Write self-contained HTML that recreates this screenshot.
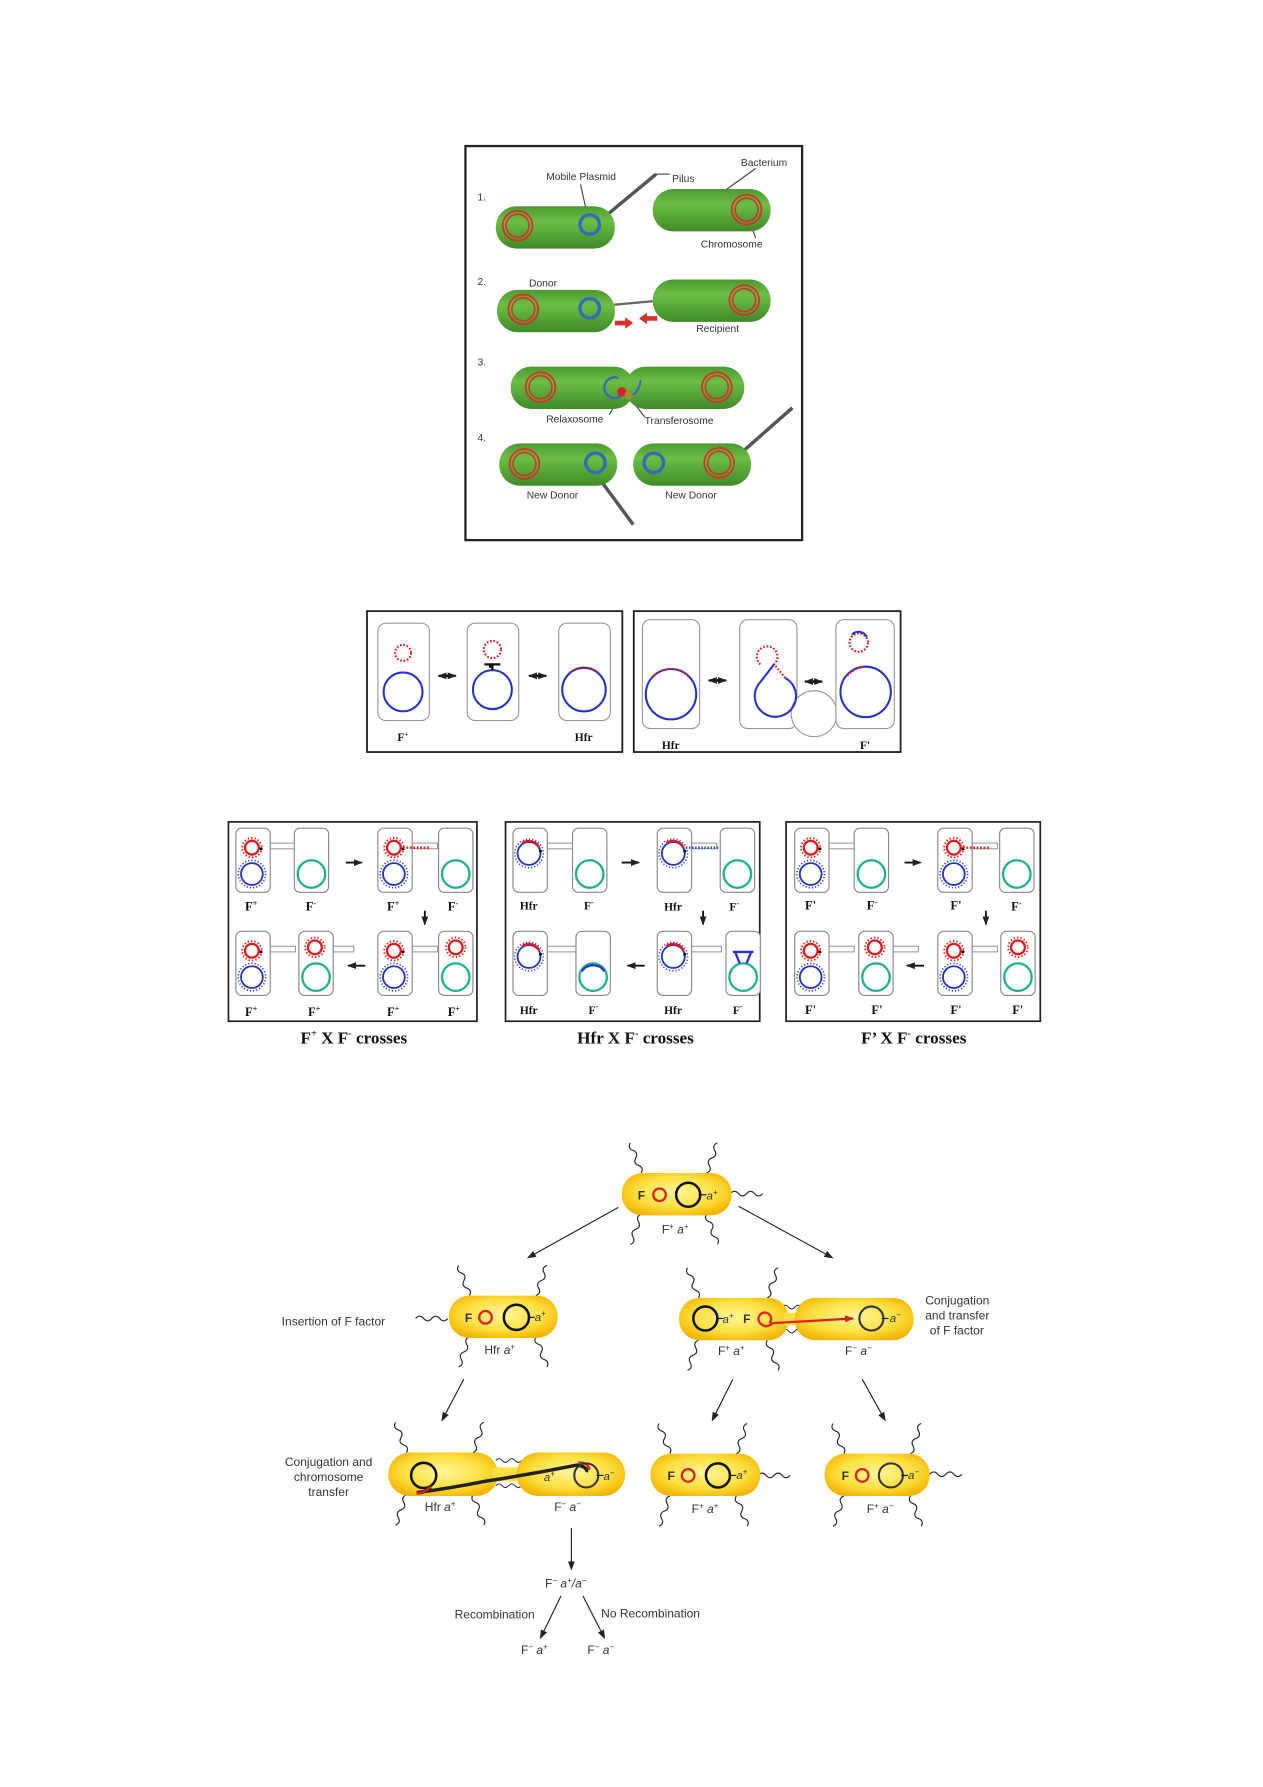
<!DOCTYPE html>
<html><head><meta charset="utf-8">
<style>
html,body{margin:0;padding:0;background:#fff;}
svg{display:block;}
.t{font-family:"Liberation Sans",sans-serif;fill:#333;}
.s{font-family:"Liberation Serif",serif;font-weight:bold;fill:#111;}
</style></head>
<body>
<svg width="1263" height="1787" viewBox="0 0 1103 1560" preserveAspectRatio="none" xmlns="http://www.w3.org/2000/svg" xmlns:xlink="http://www.w3.org/1999/xlink">
<defs>
<linearGradient id="gg" x1="0" y1="0" x2="0" y2="1">
<stop offset="0" stop-color="#4a9a30"/><stop offset="0.35" stop-color="#6cbf45"/><stop offset="1" stop-color="#3f8a28"/>
</linearGradient>
<radialGradient id="yg" cx="0.5" cy="0.45" r="0.6">
<stop offset="0" stop-color="#fff59a"/><stop offset="0.6" stop-color="#fde040"/><stop offset="1" stop-color="#f2b400"/>
</radialGradient>
<g id="chr"><circle r="13" fill="none" stroke="#d8302a" stroke-width="1.6"/><circle r="10" fill="none" stroke="#d8302a" stroke-width="1.4"/></g>
<g id="pb"><circle r="8.5" fill="none" stroke="#3a68b8" stroke-width="3"/></g>
<marker id="ah" markerWidth="8" markerHeight="8" refX="7" refY="4" orient="auto" markerUnits="userSpaceOnUse"><path d="M0,1 L8,4 L0,7 z" fill="#222"/></marker>
<marker id="ahr" markerWidth="8" markerHeight="8" refX="7" refY="4" orient="auto" markerUnits="userSpaceOnUse"><path d="M0,1 L8,4 L0,7 z" fill="#d22"/></marker>
<g id="cell"><rect width="30" height="56" rx="5" fill="#fff" stroke="#888" stroke-width="1"/></g>
<g id="don">
<circle cx="14" cy="17" r="6" fill="none" stroke="#e01818" stroke-width="2"/>
<circle cx="14" cy="17" r="8.5" fill="none" stroke="#e01818" stroke-width="1.6" stroke-dasharray="1.2 1.8"/>
<circle cx="14" cy="40" r="9.5" fill="none" stroke="#2233cc" stroke-width="1.6"/>
<circle cx="14" cy="40" r="12" fill="none" stroke="#2233cc" stroke-width="1.4" stroke-dasharray="1 1.8"/>
<circle cx="22" cy="18" r="1.3" fill="#000"/>
</g>
<g id="rec"><circle cx="15" cy="40" r="12" fill="none" stroke="#1db38a" stroke-width="2"/></g>
<g id="hdon">
<circle cx="14" cy="22" r="10" fill="none" stroke="#2233cc" stroke-width="1.6"/>
<circle cx="14" cy="22" r="12.5" fill="none" stroke="#2233cc" stroke-width="1.3" stroke-dasharray="1 1.8"/>
<path d="M8,13 A10,10 0 0 1 23,17" fill="none" stroke="#e01818" stroke-width="2"/>
<circle cx="24" cy="20" r="1.3" fill="#000"/>
</g>
<g id="bridge"><rect x="30" y="13" width="22" height="5" fill="#fff" stroke="#888" stroke-width="0.8"/></g>
<path id="wig" d="M0,0 q4,-3.5 0,-7 q-4,-3.5 0,-7 q4,-3.5 0,-7 q-4,-3.5 0,-7" fill="none" stroke="#222" stroke-width="1"/>
<path id="wigh" d="M0,0 q3.5,-4 7,0 q3.5,4 7,0 q3.5,-4 7,0 q3.5,4 7,0" fill="none" stroke="#222" stroke-width="1"/>
</defs>

<!-- PANEL 1 -->
<rect x="406.5" y="127.5" width="294" height="344" fill="#fff" stroke="#222" stroke-width="2"/>
<g class="t" font-size="9">
<text x="417" y="175">1.</text><text x="417" y="249">2.</text><text x="417" y="319">3.</text><text x="417" y="385">4.</text>
<text x="477" y="157">Mobile Plasmid</text>
<text x="587" y="159">Pilus</text>
<text x="647" y="145">Bacterium</text>
<text x="612" y="216">Chromosome</text>
<text x="462" y="250">Donor</text>
<text x="608" y="290">Recipient</text>
<text x="477" y="369">Relaxosome</text>
<text x="563" y="370">Transferosome</text>
<text x="460" y="435">New Donor</text>
<text x="581" y="435">New Donor</text>
</g>
<g stroke="#444" stroke-width="1" fill="none">
<line x1="507" y1="161" x2="513" y2="188"/><line x1="573" y1="152" x2="585" y2="152"/>
<line x1="660" y1="147" x2="628" y2="170"/><line x1="656" y1="197" x2="660" y2="208"/>
<line x1="542" y1="345" x2="532" y2="362"/><line x1="550" y1="347" x2="563" y2="364"/>
</g>
<line x1="532" y1="186" x2="573" y2="152" stroke="#555" stroke-width="3"/>
<rect x="433" y="180" width="104" height="37" rx="18" fill="url(#gg)"/>
<use xlink:href="#chr" x="452" y="197"/><use xlink:href="#pb" x="515" y="196"/>
<rect x="570" y="165" width="103" height="37" rx="18" fill="url(#gg)"/>
<use xlink:href="#chr" x="652" y="183"/>
<line x1="536" y1="266" x2="570" y2="263" stroke="#666" stroke-width="2"/>
<rect x="434" y="253" width="103" height="37" rx="18" fill="url(#gg)"/>
<use xlink:href="#chr" x="457" y="270"/><use xlink:href="#pb" x="515" y="269"/>
<rect x="570" y="244" width="103" height="37" rx="18" fill="url(#gg)"/>
<use xlink:href="#chr" x="650" y="262"/>
<path d="M537,280 h9 v-3 l7,5 l-7,5 v-3 h-9z" fill="#d8302a"/>
<path d="M574,276 h-9 v-3 l-7,5 l7,5 v-3 h9z" fill="#d8302a"/>
<rect x="446" y="320" width="108" height="37" rx="18" fill="url(#gg)"/>
<rect x="546" y="320" width="104" height="37" rx="18" fill="url(#gg)"/>
<use xlink:href="#chr" x="472" y="338"/><use xlink:href="#chr" x="626" y="338"/>
<path d="M545,342 A9,9 0 1 1 540,330 M545,342 q8,6 12,-2 q3,-6 2,-8" fill="none" stroke="#3a68b8" stroke-width="2"/>
<circle cx="543" cy="342" r="4" fill="#d8202a"/><circle cx="549" cy="345" r="3.5" fill="#a09030"/>
<line x1="525" y1="420" x2="553" y2="458" stroke="#555" stroke-width="3"/>
<line x1="650" y1="393" x2="692" y2="356" stroke="#555" stroke-width="3"/>
<rect x="436" y="387" width="103" height="37" rx="18" fill="url(#gg)"/>
<use xlink:href="#chr" x="458" y="405"/><use xlink:href="#pb" x="520" y="404"/>
<rect x="553" y="387" width="103" height="37" rx="18" fill="url(#gg)"/>
<use xlink:href="#pb" x="571" y="404"/><use xlink:href="#chr" x="628" y="404"/>

<!-- PANEL 2 -->
<rect x="320.5" y="533.5" width="223" height="123" fill="#fff" stroke="#222" stroke-width="1.6"/>
<rect x="553.5" y="533.5" width="233" height="123" fill="#fff" stroke="#222" stroke-width="1.6"/>
<g fill="#fff" stroke="#999" stroke-width="1">
<rect x="330" y="544" width="45" height="85" rx="7"/>
<rect x="408" y="544" width="45" height="85" rx="7"/>
<rect x="488" y="544" width="45" height="85" rx="7"/>
<rect x="561" y="541" width="50" height="95" rx="7"/>
<rect x="646" y="541" width="50" height="95" rx="7"/>
<circle cx="711" cy="623" r="20"/>
<rect x="730" y="541" width="51" height="95" rx="7"/>
</g>
<g fill="none" stroke-width="1.8">
<circle cx="352" cy="604" r="17" stroke="#2233cc"/>
<circle cx="352" cy="570" r="7" stroke="#e01818" stroke-dasharray="1.5 1.5"/>
<circle cx="430" cy="602" r="17" stroke="#2233cc"/>
<circle cx="430" cy="567" r="7.5" stroke="#e01818" stroke-dasharray="1.5 1.5"/>
<circle cx="510" cy="602" r="19" stroke="#2233cc"/>
<path d="M498,587 A19,19 0 0 1 522,587" stroke="#e01818" stroke-dasharray="1.5 1.5"/>
<circle cx="586" cy="606" r="22" stroke="#2233cc"/>
<path d="M570,591 A22,22 0 0 1 602,591" stroke="#e01818" stroke-dasharray="1.5 1.5"/>
<path d="M664,580 A9,9 0 1 1 676,580 L686,592" stroke="#e01818" stroke-dasharray="1.5 1.5"/>
<path d="M676,580 L662,598 A18,18 0 1 0 686,592" stroke="#2233cc"/>
<circle cx="750" cy="561" r="8" stroke="#e01818" stroke-dasharray="1.5 1.5"/>
<path d="M744,554 A8,8 0 0 1 757,556" stroke="#2233cc"/>
<circle cx="756" cy="604" r="22" stroke="#2233cc"/>
<path d="M740,590 A22,22 0 0 1 756,582" stroke="#e01818" stroke-dasharray="1.5 1.5"/>
</g>
<path d="M428,583 v-4 M423,580 h14 M430,580 v5" stroke="#111" stroke-width="2"/>
<g stroke="#111" stroke-width="2" marker-end="url(#ah)">
<line x1="389" y1="590" x2="398" y2="590"/><line x1="393" y1="590" x2="383" y2="590"/>
<line x1="468" y1="590" x2="477" y2="590"/><line x1="472" y1="590" x2="462" y2="590"/>
<line x1="625" y1="594" x2="634" y2="594"/><line x1="629" y1="594" x2="619" y2="594"/>
<line x1="709" y1="595" x2="718" y2="595"/><line x1="713" y1="595" x2="703" y2="595"/>
</g>
<g class="s" font-size="10">
<text x="347" y="647">F<tspan font-size="6" dy="-4">+</tspan></text>
<text x="502" y="647">Hfr</text>
<text x="578" y="654">Hfr</text>
<text x="751" y="654">F'</text>
</g>

<!-- PANEL 3 -->
<g class="s" font-size="15">
<text x="309" y="911" text-anchor="middle">F<tspan font-size="9" dy="-6">+</tspan><tspan dy="6"> X F</tspan><tspan font-size="9" dy="-6">-</tspan><tspan dy="6"> crosses</tspan></text>
<text x="555" y="911" text-anchor="middle">Hfr X F<tspan font-size="9" dy="-6">-</tspan><tspan dy="6"> crosses</tspan></text>
<text x="798" y="911" text-anchor="middle">F’ X F<tspan font-size="9" dy="-6">-</tspan><tspan dy="6"> crosses</tspan></text>
</g>

<g transform="translate(199,717)">
<rect x="0.5" y="0.5" width="217" height="174" fill="#fff" stroke="#222" stroke-width="1.5"/>
<g transform="translate(7,6)"><use xlink:href="#bridge"/><use xlink:href="#cell"/><use xlink:href="#don"/><g transform="translate(51,0)"><use xlink:href="#cell"/><use xlink:href="#rec"/></g></g>
<g transform="translate(131,6)"><use xlink:href="#bridge"/><use xlink:href="#cell"/><use xlink:href="#don"/><line x1="22" y1="17" x2="45" y2="17" stroke="#e01818" stroke-width="2" stroke-dasharray="1.5 1.5"/><g transform="translate(53,0)"><use xlink:href="#cell"/><use xlink:href="#rec"/></g></g>
<g transform="translate(7,96)"><use xlink:href="#bridge"/><use xlink:href="#cell"/><use xlink:href="#don"/><g transform="translate(55,0)"><rect x="30" y="13" width="18" height="5" fill="#fff" stroke="#888" stroke-width="0.8"/><use xlink:href="#cell"/><use xlink:href="#rec"/><circle cx="14" cy="14" r="6" fill="none" stroke="#e01818" stroke-width="2"/><circle cx="14" cy="14" r="8.5" fill="none" stroke="#e01818" stroke-width="1.6" stroke-dasharray="1.2 1.8"/></g></g>
<g transform="translate(131,96)"><use xlink:href="#bridge"/><use xlink:href="#cell"/><use xlink:href="#don"/><g transform="translate(53,0)"><use xlink:href="#cell"/><use xlink:href="#rec"/><circle cx="15" cy="14" r="6" fill="none" stroke="#e01818" stroke-width="2"/><circle cx="15" cy="14" r="8.5" fill="none" stroke="#e01818" stroke-width="1.6" stroke-dasharray="1.2 1.8"/></g></g>
<g stroke="#111" stroke-width="1.6" marker-end="url(#ah)">
<line x1="103" y1="36" x2="117" y2="36"/><line x1="172" y1="78" x2="172" y2="90"/><line x1="120" y1="126" x2="105" y2="126"/>
</g>
<g class="s" font-size="11">
<text x="15" y="78">F<tspan font-size="7" dy="-4">+</tspan></text><text x="68" y="78">F<tspan font-size="7" dy="-4">-</tspan></text>
<text x="139" y="78">F<tspan font-size="7" dy="-4">+</tspan></text><text x="192" y="78">F<tspan font-size="7" dy="-4">-</tspan></text>
<text x="15" y="170">F<tspan font-size="7" dy="-4">+</tspan></text><text x="70" y="170">F<tspan font-size="7" dy="-4">+</tspan></text>
<text x="139" y="170">F<tspan font-size="7" dy="-4">+</tspan></text><text x="192" y="170">F<tspan font-size="7" dy="-4">+</tspan></text>
</g>
</g>

<g transform="translate(441,717)">
<rect x="0.5" y="0.5" width="222" height="174" fill="#fff" stroke="#222" stroke-width="1.5"/>
<g transform="translate(7,6)"><use xlink:href="#bridge"/><use xlink:href="#cell"/><use xlink:href="#hdon"/><g transform="translate(52,0)"><use xlink:href="#cell"/><use xlink:href="#rec"/></g></g>
<g transform="translate(133,6)"><use xlink:href="#bridge"/><use xlink:href="#cell"/><use xlink:href="#hdon"/><line x1="25" y1="17" x2="55" y2="17" stroke="#2233cc" stroke-width="2" stroke-dasharray="1.2 1.5"/><g transform="translate(55,0)"><use xlink:href="#cell"/><use xlink:href="#rec"/></g></g>
<g transform="translate(7,96)"><rect x="30" y="13" width="26" height="5" fill="#fff" stroke="#888" stroke-width="0.8"/><use xlink:href="#cell"/><use xlink:href="#hdon"/><g transform="translate(55,0)"><use xlink:href="#cell"/><use xlink:href="#rec"/><path d="M5,35 A12,12 0 0 1 25,35" fill="none" stroke="#2233cc" stroke-width="2"/></g></g>
<g transform="translate(133,96)"><rect x="30" y="13" width="26" height="5" fill="#fff" stroke="#888" stroke-width="0.8"/><use xlink:href="#cell"/><use xlink:href="#hdon"/><g transform="translate(60,0)"><use xlink:href="#cell"/><use xlink:href="#rec"/><path d="M6,18 h18 M8,18 l4,10 M22,18 l-4,10" fill="none" stroke="#2233cc" stroke-width="2"/></g></g>
<g stroke="#111" stroke-width="1.6" marker-end="url(#ah)">
<line x1="102" y1="36" x2="117" y2="36"/><line x1="173" y1="78" x2="173" y2="90"/><line x1="122" y1="126" x2="107" y2="126"/>
</g>
<g class="s" font-size="10">
<text x="13" y="77">Hfr</text><text x="69" y="77">F<tspan font-size="7" dy="-4">-</tspan></text>
<text x="139" y="78">Hfr</text><text x="196" y="78">F<tspan font-size="7" dy="-4">-</tspan></text>
<text x="13" y="168">Hfr</text><text x="73" y="168">F<tspan font-size="7" dy="-4">-</tspan></text>
<text x="139" y="168">Hfr</text><text x="199" y="168">F<tspan font-size="7" dy="-4">-</tspan></text>
</g>
</g>

<g transform="translate(686,717)">
<rect x="0.5" y="0.5" width="222" height="174" fill="#fff" stroke="#222" stroke-width="1.5"/>
<g transform="translate(8,6)"><use xlink:href="#bridge"/><use xlink:href="#cell"/><use xlink:href="#don"/><g transform="translate(52,0)"><use xlink:href="#cell"/><use xlink:href="#rec"/></g></g>
<g transform="translate(133,6)"><use xlink:href="#bridge"/><use xlink:href="#cell"/><use xlink:href="#don"/><line x1="22" y1="17" x2="45" y2="17" stroke="#e01818" stroke-width="2" stroke-dasharray="1.5 1.5"/><g transform="translate(54,0)"><use xlink:href="#cell"/><use xlink:href="#rec"/></g></g>
<g transform="translate(8,96)"><use xlink:href="#bridge"/><use xlink:href="#cell"/><use xlink:href="#don"/><g transform="translate(56,0)"><rect x="30" y="13" width="22" height="5" fill="#fff" stroke="#888" stroke-width="0.8"/><use xlink:href="#cell"/><use xlink:href="#rec"/><circle cx="14" cy="14" r="6" fill="none" stroke="#e01818" stroke-width="2"/><circle cx="14" cy="14" r="8.5" fill="none" stroke="#e01818" stroke-width="1.6" stroke-dasharray="1.2 1.8"/></g></g>
<g transform="translate(133,96)"><use xlink:href="#bridge"/><use xlink:href="#cell"/><use xlink:href="#don"/><g transform="translate(55,0)"><use xlink:href="#cell"/><use xlink:href="#rec"/><circle cx="15" cy="14" r="6" fill="none" stroke="#e01818" stroke-width="2"/><circle cx="15" cy="14" r="8.5" fill="none" stroke="#e01818" stroke-width="1.6" stroke-dasharray="1.2 1.8"/></g></g>
<g stroke="#111" stroke-width="1.6" marker-end="url(#ah)">
<line x1="104" y1="36" x2="118" y2="36"/><line x1="175" y1="78" x2="175" y2="90"/><line x1="121" y1="126" x2="106" y2="126"/>
</g>
<g class="s" font-size="11">
<text x="17" y="77">F'</text><text x="71" y="77">F<tspan font-size="7" dy="-4">-</tspan></text>
<text x="144" y="77">F'</text><text x="197" y="78">F<tspan font-size="7" dy="-4">-</tspan></text>
<text x="17" y="168">F'</text><text x="75" y="168">F'</text>
<text x="144" y="168">F'</text><text x="198" y="168">F'</text>
</g>
</g>

<!-- PANEL 4 -->
<g class="t" font-size="10.5" fill="#222">
<use xlink:href="#wig" transform="translate(560,1024) rotate(-20)"/>
<use xlink:href="#wig" transform="translate(617,1024) rotate(20)"/>
<use xlink:href="#wig" transform="translate(560,1060) rotate(200)"/>
<use xlink:href="#wig" transform="translate(617,1060) rotate(160)"/>
<use xlink:href="#wigh" transform="translate(638,1042)"/>
<rect x="543" y="1024" width="96" height="37" rx="18" fill="url(#yg)"/>
<text x="557" y="1047" font-weight="bold">F</text>
<circle cx="576" cy="1043" r="5.5" fill="none" stroke="#d22" stroke-width="2"/>
<circle cx="601" cy="1043" r="10.5" fill="none" stroke="#111" stroke-width="2.2"/>
<line x1="610" y1="1043" x2="617" y2="1043" stroke="#111"/>
<text x="617" y="1047" font-style="italic" font-size="10">a<tspan font-size="7" dy="-4">+</tspan></text>
<text x="578" y="1077">F<tspan font-size="7" dy="-4">+</tspan><tspan dy="4" font-style="italic"> a</tspan><tspan font-size="7" dy="-4">+</tspan></text>

<line x1="540" y1="1054" x2="461" y2="1098" stroke="#222" marker-end="url(#ah)"/>
<line x1="645" y1="1053" x2="727" y2="1098" stroke="#222" marker-end="url(#ah)"/>

<use xlink:href="#wig" transform="translate(410,1131) rotate(-20)"/>
<use xlink:href="#wig" transform="translate(468,1131) rotate(20)"/>
<use xlink:href="#wig" transform="translate(410,1167) rotate(200)"/>
<use xlink:href="#wig" transform="translate(468,1167) rotate(160)"/>
<use xlink:href="#wigh" transform="translate(363,1151)"/>
<rect x="392" y="1131" width="95" height="37" rx="18" fill="url(#yg)"/>
<text x="406" y="1154" font-weight="bold">F</text>
<circle cx="424" cy="1150" r="5.5" fill="none" stroke="#d22" stroke-width="2"/>
<circle cx="451" cy="1150" r="11" fill="none" stroke="#111" stroke-width="2.2"/>
<line x1="461" y1="1150" x2="467" y2="1150" stroke="#111"/>
<text x="467" y="1153" font-style="italic" font-size="10">a<tspan font-size="7" dy="-4">+</tspan></text>
<text x="423" y="1182">Hfr <tspan font-style="italic">a</tspan><tspan font-size="7" dy="-4">+</tspan></text>
<text x="246" y="1157">Insertion of F factor</text>

<use xlink:href="#wig" transform="translate(610,1133) rotate(-20)"/>
<use xlink:href="#wig" transform="translate(670,1133) rotate(20)"/>
<use xlink:href="#wig" transform="translate(610,1170) rotate(200)"/>
<use xlink:href="#wig" transform="translate(670,1170) rotate(160)"/>
<use xlink:href="#wigh" transform="translate(683,1141) scale(0.8)"/>
<use xlink:href="#wigh" transform="translate(683,1162) scale(0.8)"/>
<rect x="593" y="1133" width="96" height="37" rx="18" fill="url(#yg)"/>
<rect x="684" y="1146" width="16" height="11" fill="#fde040"/>
<rect x="694" y="1133" width="104" height="37" rx="18" fill="url(#yg)"/>
<circle cx="616" cy="1151" r="10.5" fill="none" stroke="#111" stroke-width="2.2"/>
<line x1="626" y1="1151" x2="632" y2="1151" stroke="#111"/>
<text x="631" y="1155" font-style="italic" font-size="10">a<tspan font-size="7" dy="-4">+</tspan></text>
<text x="649" y="1155" font-weight="bold">F</text>
<path d="M672,1155 a5.5,5.5 0 1 0 -7,1 q4,4 10,-1 l70,-4" fill="none" stroke="#d22" stroke-width="2" marker-end="url(#ahr)"/>
<circle cx="761" cy="1151" r="10.5" fill="none" stroke="#334" stroke-width="1.8"/>
<line x1="770" y1="1151" x2="776" y2="1151" stroke="#111"/>
<text x="777" y="1154" font-style="italic" font-size="10">a<tspan font-size="7" dy="-4">−</tspan></text>
<text x="627" y="1183">F<tspan font-size="7" dy="-4">+</tspan><tspan dy="4" font-style="italic"> a</tspan><tspan font-size="7" dy="-4">+</tspan></text>
<text x="738" y="1183">F<tspan font-size="7" dy="-4">−</tspan><tspan dy="4" font-style="italic"> a</tspan><tspan font-size="7" dy="-4">−</tspan></text>
<text x="808" y="1139">Conjugation</text>
<text x="808" y="1152">and transfer</text>
<text x="812" y="1165">of F factor</text>

<line x1="405" y1="1204" x2="386" y2="1240" stroke="#222" marker-end="url(#ah)"/>
<line x1="640" y1="1204" x2="622" y2="1240" stroke="#222" marker-end="url(#ah)"/>
<line x1="753" y1="1204" x2="773" y2="1240" stroke="#222" marker-end="url(#ah)"/>

<use xlink:href="#wig" transform="translate(355,1268) rotate(-20)"/>
<use xlink:href="#wig" transform="translate(413,1268) rotate(20)"/>
<use xlink:href="#wig" transform="translate(355,1305) rotate(200)"/>
<use xlink:href="#wig" transform="translate(413,1305) rotate(160)"/>
<use xlink:href="#wigh" transform="translate(433,1275) scale(0.8)"/>
<use xlink:href="#wigh" transform="translate(433,1297) scale(0.8)"/>
<rect x="339" y="1268" width="96" height="38" rx="19" fill="url(#yg)"/>
<rect x="430" y="1281" width="26" height="12" fill="#fde040"/>
<rect x="451" y="1268" width="95" height="38" rx="19" fill="url(#yg)"/>
<circle cx="370" cy="1288" r="11" fill="none" stroke="#111" stroke-width="2.2"/>
<path d="M376,1298 q-6,6 -12,5 q30,-4 60,-10 q40,-6 80,-14 q10,2 8,6" fill="none" stroke="#222" stroke-width="3"/>
<path d="M376,1298 q-6,6 -12,5" fill="none" stroke="#d22" stroke-width="2"/>
<path d="M505,1277 q8,-1 10,6" fill="none" stroke="#d22" stroke-width="2"/>
<circle cx="512" cy="1288" r="10.5" fill="none" stroke="#334" stroke-width="1.8"/>
<line x1="521" y1="1288" x2="527" y2="1288" stroke="#111"/>
<text x="527" y="1292" font-style="italic" font-size="10">a<tspan font-size="7" dy="-4">−</tspan></text>
<text x="475" y="1293" font-style="italic" font-size="10">a<tspan font-size="7" dy="-4">+</tspan></text>
<text x="371" y="1319">Hfr <tspan font-style="italic">a</tspan><tspan font-size="7" dy="-4">+</tspan></text>
<text x="484" y="1319">F<tspan font-size="7" dy="-4">−</tspan><tspan dy="4" font-style="italic"> a</tspan><tspan font-size="7" dy="-4">−</tspan></text>
<text x="287" y="1280" text-anchor="middle">Conjugation and</text>
<text x="287" y="1293" text-anchor="middle">chromosome</text>
<text x="287" y="1306" text-anchor="middle">transfer</text>

<use xlink:href="#wig" transform="translate(585,1269) rotate(-20)"/>
<use xlink:href="#wig" transform="translate(643,1269) rotate(20)"/>
<use xlink:href="#wig" transform="translate(585,1306) rotate(200)"/>
<use xlink:href="#wig" transform="translate(643,1306) rotate(160)"/>
<use xlink:href="#wigh" transform="translate(662,1288)"/>
<rect x="568" y="1269" width="96" height="37" rx="18" fill="url(#yg)"/>
<text x="583" y="1292" font-weight="bold">F</text>
<circle cx="601" cy="1288" r="5.5" fill="none" stroke="#d22" stroke-width="2"/>
<circle cx="627" cy="1288" r="10.5" fill="none" stroke="#111" stroke-width="2.2"/>
<line x1="637" y1="1288" x2="643" y2="1288" stroke="#111"/>
<text x="643" y="1291" font-style="italic" font-size="10">a<tspan font-size="7" dy="-4">+</tspan></text>
<text x="604" y="1321">F<tspan font-size="7" dy="-4">+</tspan><tspan dy="4" font-style="italic"> a</tspan><tspan font-size="7" dy="-4">+</tspan></text>

<use xlink:href="#wig" transform="translate(737,1269) rotate(-20)"/>
<use xlink:href="#wig" transform="translate(795,1269) rotate(20)"/>
<use xlink:href="#wig" transform="translate(737,1306) rotate(200)"/>
<use xlink:href="#wig" transform="translate(795,1306) rotate(160)"/>
<use xlink:href="#wigh" transform="translate(812,1287)"/>
<rect x="720" y="1269" width="92" height="37" rx="18" fill="url(#yg)"/>
<text x="735" y="1292" font-weight="bold">F</text>
<circle cx="753" cy="1288" r="5.5" fill="none" stroke="#d22" stroke-width="2"/>
<circle cx="778" cy="1288" r="10.5" fill="none" stroke="#334" stroke-width="1.8"/>
<line x1="787" y1="1288" x2="793" y2="1288" stroke="#111"/>
<text x="793" y="1291" font-style="italic" font-size="10">a<tspan font-size="7" dy="-4">−</tspan></text>
<text x="757" y="1321">F<tspan font-size="7" dy="-4">+</tspan><tspan dy="4" font-style="italic"> a</tspan><tspan font-size="7" dy="-4">−</tspan></text>

<line x1="499" y1="1334" x2="499" y2="1370" stroke="#222" marker-end="url(#ah)"/>
<text x="476" y="1386">F<tspan font-size="7" dy="-4">−</tspan><tspan dy="4" font-style="italic"> a</tspan><tspan font-size="7" dy="-4">+</tspan><tspan dy="4" font-style="italic">/a</tspan><tspan font-size="7" dy="-4">−</tspan></text>
<line x1="490" y1="1393" x2="472" y2="1430" stroke="#222" marker-end="url(#ah)"/>
<line x1="509" y1="1393" x2="528" y2="1430" stroke="#222" marker-end="url(#ah)"/>
<text x="397" y="1413">Recombination</text>
<text x="525" y="1412">No Recombination</text>
<text x="455" y="1444">F<tspan font-size="7" dy="-4">−</tspan><tspan dy="4" font-style="italic"> a</tspan><tspan font-size="7" dy="-4">+</tspan></text>
<text x="513" y="1444">F<tspan font-size="7" dy="-4">−</tspan><tspan dy="4" font-style="italic"> a</tspan><tspan font-size="7" dy="-4">−</tspan></text>
</g>
</svg>
</body></html>
